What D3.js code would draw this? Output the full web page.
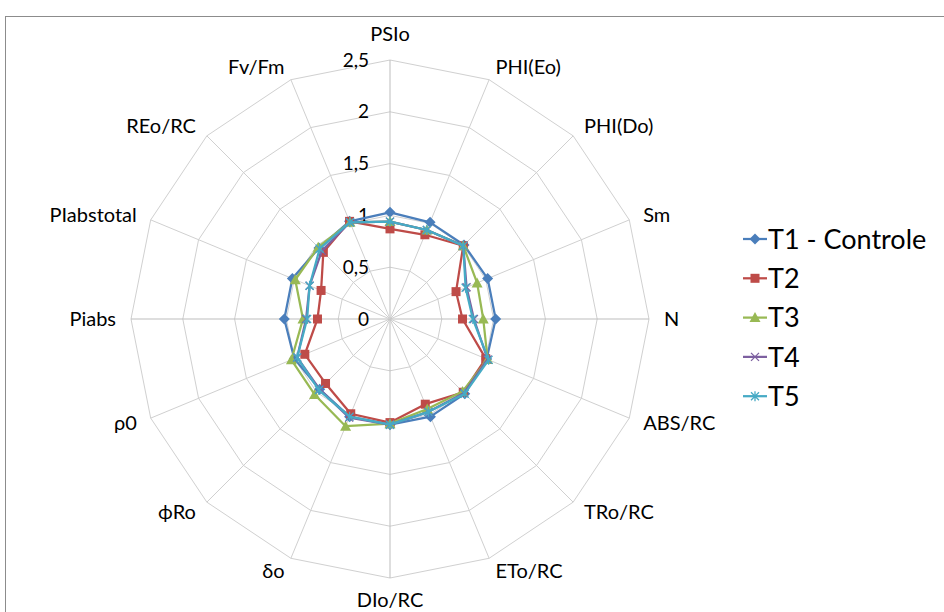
<!DOCTYPE html>
<html>
<head>
<meta charset="utf-8">
<script src="https://cdn.jsdelivr.net/npm/d3@7"></script>
<style>
  body { margin: 0; background: #fff; }
  svg text { font-family: Lato, "Open Sans", sans-serif; fill: #000; }
</style>
</head>
<body>
<svg id="chart" width="944" height="612"></svg>
<script>
const categories = ["PSIo", "PHI(Eo)", "PHI(Do)", "Sm", "N", "ABS/RC", "TRo/RC", "ETo/RC",
  "DIo/RC", "δo", "ϕRo", "ρ0", "Piabs", "PIabstotal", "REo/RC", "Fv/Fm"];

const seriesNames = ["T1 - Controle", "T2", "T3", "T4", "T5"];
const t1 = [1.03, 1.01, 1.01, 1.02, 1.02, 1.01, 1.02, 1.02, 1.02, 1.02, 0.96, 1.00, 1.02, 1.02, 0.97, 1.02];
const t2 = [0.87, 0.88, 1.00, 0.69, 0.70, 1.00, 1.00, 0.89, 1.00, 0.99, 0.88, 0.89, 0.70, 0.72, 0.91, 1.02];
const t3 = [0.94, 0.93, 1.00, 0.91, 0.90, 1.02, 0.99, 0.94, 1.01, 1.12, 1.03, 1.03, 0.84, 0.99, 0.98, 1.01];
const t4 = [0.94, 0.93, 1.00, 0.80, 0.81, 1.02, 1.01, 0.97, 1.02, 1.03, 0.96, 0.97, 0.81, 0.84, 0.93, 1.01];
const t5 = [0.94, 0.93, 1.00, 0.79, 0.80, 1.03, 1.02, 0.97, 1.02, 1.02, 0.97, 0.97, 0.80, 0.84, 0.96, 1.01];
const ticks = [0, 0.5, 1, 1.5, 2, 2.5];

const series = [t1, t2, t3, t4, t5];
const colors = ["#4a7ebb", "#be4b48", "#98b954", "#7d60a0", "#46aac5"];
const markers = ["diamond", "square", "triangle", "cross", "star"];

const svg = d3.select("#chart");
const cx = 390, cy = 319, R = 259;

// chart border
svg.append("rect")
  .attr("x", 5.5).attr("y", 16.5)
  .attr("width", 960).attr("height", 620)
  .attr("fill", "none").attr("stroke", "#8c8c8c").attr("stroke-width", 1);

const r = d3.scaleLinear().domain([0, 2.5]).range([0, R]);
const angle = d3.scaleLinear().domain([0, categories.length]).range([0, 2 * Math.PI]);

function pt(i, v) {
  const a = angle(i);
  return [cx + r(v) * Math.sin(a), cy - r(v) * Math.cos(a)];
}

const g = svg.append("g");

// rings
ticks.slice(1).forEach(t => {
  g.append("path")
    .attr("d", d3.line()(categories.map((c, i) => pt(i, t))) + "Z")
    .attr("fill", "none").attr("stroke", "#d0d0d0").attr("stroke-width", 1);
});

// spokes
categories.forEach((c, i) => {
  const p = pt(i, 2.5);
  g.append("line")
    .attr("x1", cx).attr("y1", cy).attr("x2", p[0]).attr("y2", p[1])
    .attr("stroke", i === 0 || i === 4 || i === 8 || i === 12 ? "#bdbdbd" : "#d0d0d0")
    .attr("stroke-width", 1);
});

// tick labels
ticks.forEach(t => {
  g.append("text")
    .attr("x", cx - 21).attr("y", cy - r(t))
    .attr("dy", "0.35em")
    .attr("text-anchor", "end")
    .style("font-size", "19px")
    .text(String(t).replace(".", ","));
});

// axis labels
categories.forEach((c, i) => {
  const a = angle(i);
  const s = Math.sin(a), co = Math.cos(a);
  const p = pt(i, 2.5 + 14 / r(1));
  let anchor = "middle";
  if (s > 0.1) anchor = "start";
  else if (s < -0.1) anchor = "end";
  let y = p[1];
  if (anchor === "middle") y -= co > 0 ? 12 : -8;
  g.append("text")
    .attr("x", p[0] + (anchor === "start" ? 1 : anchor === "end" ? -1 : 0))
    .attr("y", y)
    .attr("dy", "0.35em")
    .attr("text-anchor", anchor)
    .style("font-size", "20px")
    .text(c);
});

function drawMarker(sel, type, color) {
  if (type === "diamond") {
    sel.append("path").attr("d", "M0,-5.5L5.5,0L0,5.5L-5.5,0Z").attr("fill", color);
  } else if (type === "square") {
    sel.append("rect").attr("x", -4.5).attr("y", -4.5).attr("width", 9).attr("height", 9).attr("fill", color);
  } else if (type === "triangle") {
    sel.append("path").attr("d", "M0,-5.5L5.5,4.5L-5.5,4.5Z").attr("fill", color);
  } else if (type === "cross") {
    sel.append("path").attr("d", "M-4,-4L4,4M-4,4L4,-4").attr("stroke", color).attr("stroke-width", 1.3);
  } else {
    sel.append("path").attr("d", "M-4,-4L4,4M-4,4L4,-4M0,-5L0,5").attr("stroke", color).attr("stroke-width", 1.3);
  }
}

// series
series.forEach((vals, k) => {
  const pts = vals.map((v, i) => pt(i, v));
  g.append("path")
    .attr("d", d3.line()(pts) + "Z")
    .attr("fill", "none")
    .attr("stroke", colors[k])
    .attr("stroke-width", 2.25)
    .attr("stroke-linejoin", "round");
  pts.forEach(p => {
    drawMarker(g.append("g").attr("transform", `translate(${p[0]},${p[1]})`), markers[k], colors[k]);
  });
});

// legend
const leg = svg.append("g").attr("transform", "translate(743,239)");
seriesNames.forEach((n, k) => {
  const row = leg.append("g").attr("transform", `translate(0,${k * 39.3})`);
  row.append("line").attr("x1", 0).attr("x2", 24).attr("y1", 0).attr("y2", 0)
    .attr("stroke", colors[k]).attr("stroke-width", 2.25);
  drawMarker(row.append("g").attr("transform", "translate(12,0)"), markers[k], colors[k]);
  row.append("text").attr("x", 25).attr("y", 0).attr("dy", "0.36em")
    .style("font-size", "27px").text(n);
});
</script>
</body>
</html>
